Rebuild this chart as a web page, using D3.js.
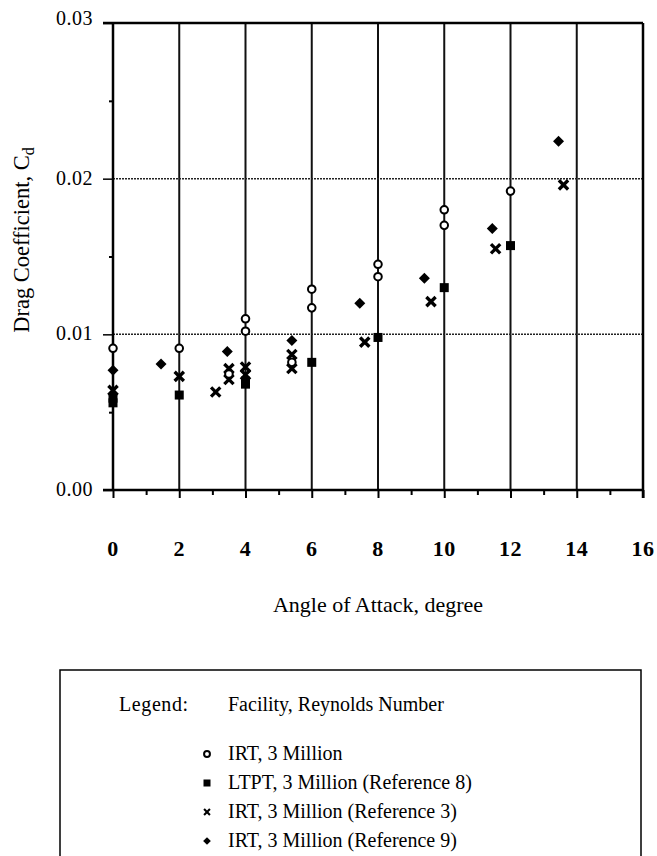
<!DOCTYPE html>
<html><head><meta charset="utf-8">
<script src="https://cdn.jsdelivr.net/npm/d3@7"></script>
<style>body{margin:0;background:#fff}svg{display:block}</style>
</head><body><svg id="c" width="657" height="856"></svg>
<script>
// ---- data ----
const xTickValues = [0, 2, 4, 6, 8, 10, 12, 14, 16];
const xMinorTicks = [1, 3, 5, 7, 9, 11, 13, 15];
const yTickValues = [0, 0.01, 0.02, 0.03];
const yTickLabels = ["0.00", "0.01", "0.02", "0.03"];
const yMinorTicks = [0.005, 0.015, 0.025];

const seriesNames = ["IRT, 3 Million", "LTPT, 3 Million (Reference 8)", "IRT, 3 Million (Reference 3)", "IRT, 3 Million (Reference 9)"];

const irtAngle = [0, 2, 3.5, 4, 4, 5.4, 6, 6, 8, 8, 10, 10, 12];
const irtCd    = [0.0091, 0.0091, 0.00745, 0.0110, 0.0102, 0.0082, 0.0129, 0.0117, 0.0145, 0.0137, 0.0180, 0.0170, 0.0192];

const ltptAngle = [0, 0, 2, 4, 4, 6, 8, 10, 12];
const ltptCd    = [0.0059, 0.0056, 0.0061, 0.0070, 0.0068, 0.0082, 0.0098, 0.0130, 0.0157];

const ref3Angle = [0, 2, 3.1, 3.5, 3.5, 4, 4, 5.4, 5.4, 7.6, 9.6, 11.55, 13.6];
const ref3Cd    = [0.0064, 0.0073, 0.0063, 0.0078, 0.0071, 0.0079, 0.0074, 0.0087, 0.0078, 0.0095, 0.0121, 0.0155, 0.0196];

const ref9Angle = [0, 1.45, 3.45, 5.4, 7.45, 9.4, 11.45, 13.45];
const ref9Cd    = [0.0077, 0.0081, 0.0089, 0.0096, 0.0120, 0.0136, 0.0168, 0.0224];

// ---- layout ----
const svg = d3.select("#c");
const L = 113, R = 643, T = 23, B = 490;
const x = d3.scaleLinear().domain([0, 16]).range([L, R]);
const y = d3.scaleLinear().domain([0, 0.03]).range([B, T]);
const serif = "'Liberation Serif','Times New Roman',serif";

// grid
svg.append("g").selectAll("line").data(xTickValues.slice(1, -1)).join("line")
  .attr("x1", d => x(d)).attr("x2", d => x(d)).attr("y1", T).attr("y2", B)
  .attr("stroke", "#111").attr("stroke-width", 2);
svg.append("g").selectAll("line").data(yTickValues.slice(1, -1)).join("line")
  .attr("x1", L).attr("x2", R).attr("y1", d => y(d)).attr("y2", d => y(d))
  .attr("stroke", "#222").attr("stroke-width", 1.5).attr("stroke-dasharray", "2,1");

// axes
const xAxis = d3.axisBottom(x).tickValues(xTickValues).tickSize(8).tickFormat("");
const gx = svg.append("g").attr("transform", `translate(0,${B})`).call(xAxis);
gx.select(".domain").attr("stroke-width", 2.5).attr("d", `M${L - 10},0H${R}`);
gx.selectAll(".tick line").attr("stroke-width", 2);
const gxm = svg.append("g").attr("transform", `translate(0,${B})`)
  .call(d3.axisBottom(x).tickValues(xMinorTicks).tickSize(5).tickFormat(""));
gxm.select(".domain").remove();
gxm.selectAll(".tick line").attr("stroke-width", 2);
svg.append("g").selectAll("text").data(xTickValues).join("text")
  .attr("x", d => x(d)).attr("y", B + 66).attr("text-anchor", "middle")
  .attr("font-family", serif).attr("font-size", 22).attr("font-weight", "bold")
  .attr("letter-spacing", 0.5)
  .text(d => d);

const yAxis = d3.axisLeft(y).tickValues(yTickValues).tickSize(10).tickFormat("");
const gy = svg.append("g").attr("transform", `translate(${L},0)`).call(yAxis);
gy.select(".domain").attr("stroke-width", 2.5).attr("d", `M0,${T}V${B}`);
gy.selectAll(".tick line").attr("stroke-width", 1.5);
const gym = svg.append("g").attr("transform", `translate(${L},0)`)
  .call(d3.axisLeft(y).tickValues(yMinorTicks).tickSize(4).tickFormat(""));
gym.select(".domain").remove();
gym.selectAll(".tick line").attr("stroke-width", 2);
svg.append("g").selectAll("text").data(yTickValues).join("text")
  .attr("x", L - 20).attr("y", (d, i) => y(d) + (i === 3 ? 2 : 6)).attr("text-anchor", "end")
  .attr("font-family", serif).attr("font-size", 20).attr("letter-spacing", 0.5)
  .text((d, i) => yTickLabels[i]);

// top and right border
svg.append("line").attr("x1", x(0) - 10).attr("x2", x(16)).attr("y1", y(0.03)).attr("y2", y(0.03))
  .attr("stroke", "#000").attr("stroke-width", 2.5);
svg.append("line").attr("x1", x(16)).attr("x2", x(16)).attr("y1", y(0.03)).attr("y2", y(0) + 8)
  .attr("stroke", "#000").attr("stroke-width", 2.5);

// axis titles
svg.append("text").attr("x", 378).attr("y", 612).attr("text-anchor", "middle")
  .attr("font-family", serif).attr("font-size", 22).text("Angle of Attack, degree");
const yt = svg.append("text").attr("transform", `translate(29,240) rotate(-90)`)
  .attr("text-anchor", "middle").attr("font-family", serif).attr("font-size", 22.5);
yt.append("tspan").text("Drag Coefficient, C");
yt.append("tspan").attr("dy", 5).attr("font-size", 16).text("d");

// markers
function drawMarker(g, type, size) {
  if (type === "circle") {
    g.append("circle").attr("r", size * 0.42).attr("fill", "#fff").attr("stroke", "#000").attr("stroke-width", 2);
  } else if (type === "square") {
    g.append("rect").attr("x", -size / 2).attr("y", -size / 2).attr("width", size).attr("height", size).attr("fill", "#000");
  } else if (type === "cross") {
    const s = size * 0.42;
    g.append("path").attr("d", `M${-s},${-s}L${s},${s}M${-s},${s}L${s},${-s}`)
      .attr("stroke", "#000").attr("stroke-width", size * 0.3).attr("stroke-linecap", "butt");
  } else if (type === "diamond") {
    const s = size * 0.55;
    g.append("path").attr("d", `M0,${-s}L${s},0L0,${s}L${-s},0Z`).attr("fill", "#000");
  }
}
const series = [
  { ang: ref9Angle, cd: ref9Cd, type: "diamond", size: 10 },
  { ang: ltptAngle, cd: ltptCd, type: "square", size: 9 },
  { ang: ref3Angle, cd: ref3Cd, type: "cross", size: 11 },
  { ang: irtAngle, cd: irtCd, type: "circle", size: 9 }
];
series.forEach(s => {
  const pts = s.ang.map((a, i) => [a, s.cd[i]]);
  svg.append("g").selectAll("g").data(pts).join("g")
    .attr("transform", d => `translate(${x(d[0])},${y(d[1])})`)
    .each(function () { drawMarker(d3.select(this), s.type, s.size); });
});

// legend
svg.append("path").attr("d", "M60,870V670H641V870")
  .attr("fill", "none").attr("stroke", "#000").attr("stroke-width", 1.5);
svg.append("text").attr("x", 119).attr("y", 711).attr("font-family", serif).attr("font-size", 20).attr("letter-spacing", 0.6).text("Legend:");
svg.append("text").attr("x", 228).attr("y", 711).attr("font-family", serif).attr("font-size", 20).text("Facility, Reynolds Number");
const legTypes = ["circle", "square", "cross", "diamond"];
seriesNames.forEach((n, i) => {
  const yy = 760 + i * 29;
  const g = svg.append("g").attr("transform", `translate(207,${yy - 6})`);
  drawMarker(g, legTypes[i], 7);
  svg.append("text").attr("x", 228).attr("y", yy).attr("font-family", serif).attr("font-size", 20).text(n);
});
</script>
</body></html>
